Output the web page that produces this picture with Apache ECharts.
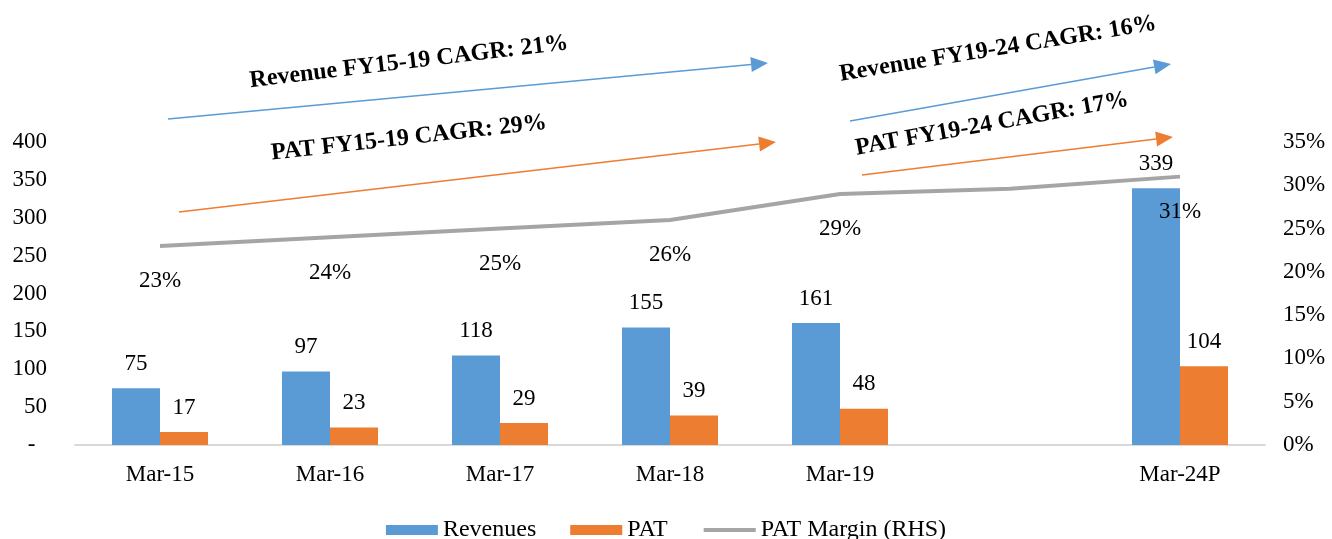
<!DOCTYPE html>
<html>
<head>
<meta charset="utf-8">
<script src="https://cdn.jsdelivr.net/npm/echarts@6/dist/echarts.min.js"></script>
<style>
  html, body { margin: 0; padding: 0; background: #fff; }
  #chart { width: 1332px; height: 539px; }
</style>
</head>
<body>
<div id="chart"></div>
<script>
// Fiscal-year periods; the blank slot keeps the spacing before the projection year
const categories = ['Mar-15', 'Mar-16', 'Mar-17', 'Mar-18', 'Mar-19', '', 'Mar-24P'];
const revenues = [75, 97, 118, 155, 161, null, 339];
const pat = [17, 23, 29, 39, 48, null, 104];
const patMargin = [23, 24, 25, 26, 29, 29.6, 31];
const marginLabelled = [true, true, true, true, true, false, true];

const leftTicks = { min: 0, max: 400, interval: 50 };
const rightTicks = { min: 0, max: 35, interval: 5 };

// Growth callouts: label text, colour, arrow start/end and label centre (px)
const callouts = [
  { text: 'Revenue FY15-19 CAGR: 21%', color: '#5b9bd5', from: [168, 119], to: [768, 63], at: [409, 62], angle: 6.8 },
  { text: 'PAT FY15-19 CAGR: 29%', color: '#ed7d31', from: [179, 212], to: [776, 142], at: [409, 138], angle: 6.4 },
  { text: 'Revenue FY19-24 CAGR: 16%', color: '#5b9bd5', from: [850, 121], to: [1171, 64], at: [998, 49], angle: 9.2 },
  { text: 'PAT FY19-24 CAGR: 17%', color: '#ed7d31', from: [862, 175], to: [1173, 137], at: [992, 124], angle: 10.2 }
];

const FONT = '"Liberation Serif", "Times New Roman", serif';
const TXT = '#000';
const FS = 23;

function arrow(c) {
  const [x1, y1] = c.from, [x2, y2] = c.to;
  const dx = x2 - x1, dy = y2 - y1;
  const len = Math.hypot(dx, dy);
  const ux = dx / len, uy = dy / len;
  const headLen = 17, headHalf = 7.5;
  const bx = x2 - ux * headLen, by = y2 - uy * headLen;
  const px = -uy * headHalf, py = ux * headHalf;
  return [
    {
      type: 'line',
      shape: { x1: x1, y1: y1, x2: bx, y2: by },
      style: { stroke: c.color, lineWidth: 1.5 },
      silent: true
    },
    {
      type: 'polygon',
      shape: { points: [[x2, y2], [bx + px, by + py], [bx - px, by - py]] },
      style: { fill: c.color },
      silent: true
    },
    {
      type: 'text',
      x: c.at[0],
      y: c.at[1],
      rotation: c.angle * Math.PI / 180,
      style: {
        text: c.text,
        font: 'bold 24px ' + FONT,
        fill: TXT,
        align: 'center',
        verticalAlign: 'middle'
      },
      silent: true
    }
  ];
}

const chart = echarts.init(document.getElementById('chart'), null, { renderer: 'canvas' });

chart.setOption({
  animation: false,
  backgroundColor: '#fff',
  textStyle: { fontFamily: FONT, color: TXT },
  grid: { left: 75, right: 67, top: 142, bottom: 94 },
  legend: {
    top: 513,
    left: 'center',
    padding: 5,
    itemWidth: 52,
    itemHeight: 10,
    itemGap: 34,
    textStyle: { fontFamily: FONT, fontSize: 24, color: TXT },
    data: [
      { name: 'Revenues', icon: 'rect' },
      { name: 'PAT', icon: 'rect' },
      { name: 'PAT Margin (RHS)', itemStyle: { opacity: 0 }, lineStyle: { width: 4, color: '#a5a5a5' } }
    ]
  },
  xAxis: {
    type: 'category',
    data: categories,
    axisTick: { show: false },
    axisLine: { lineStyle: { color: '#d9d9d9', width: 2 } },
    axisLabel: { fontFamily: FONT, fontSize: FS, color: TXT, margin: 18 },
    splitLine: { show: false }
  },
  yAxis: [
    {
      type: 'value',
      min: leftTicks.min,
      max: leftTicks.max,
      interval: leftTicks.interval,
      axisLine: { show: false },
      axisTick: { show: false },
      splitLine: { show: false },
      axisLabel: {
        fontFamily: FONT, fontSize: FS, color: TXT, margin: 28,
        formatter: v => (v === 0 ? '-  ' : String(v))
      }
    },
    {
      type: 'value',
      min: rightTicks.min,
      max: rightTicks.max,
      interval: rightTicks.interval,
      position: 'right',
      axisLine: { show: false },
      axisTick: { show: false },
      splitLine: { show: false },
      axisLabel: {
        fontFamily: FONT, fontSize: FS, color: TXT, margin: 18,
        formatter: '{value}%'
      }
    }
  ],
  series: [
    {
      name: 'Revenues',
      type: 'bar',
      data: revenues,
      barWidth: 48,
      barGap: '0%',
      itemStyle: { color: '#5b9bd5' },
      label: { show: true, position: 'top', distance: 13, fontFamily: FONT, fontSize: FS, color: TXT }
    },
    {
      name: 'PAT',
      type: 'bar',
      data: pat,
      barWidth: 48,
      barGap: '0%',
      itemStyle: { color: '#ed7d31' },
      label: { show: true, position: 'top', distance: 13, fontFamily: FONT, fontSize: FS, color: TXT }
    },
    {
      name: 'PAT Margin (RHS)',
      type: 'line',
      yAxisIndex: 1,
      data: patMargin,
      symbol: 'circle',
      symbolSize: 0,
      showSymbol: true,
      lineStyle: { color: '#a5a5a5', width: 4 },
      itemStyle: { color: '#a5a5a5' },
      z: 3,
      label: {
        show: true,
        position: 'bottom',
        distance: 24,
        fontFamily: FONT,
        fontSize: FS,
        color: TXT,
        formatter: p => (marginLabelled[p.dataIndex] ? Math.round(p.value) + '%' : '')
      }
    }
  ],
  graphic: callouts.flatMap(arrow)
});
</script>
</body>
</html>
